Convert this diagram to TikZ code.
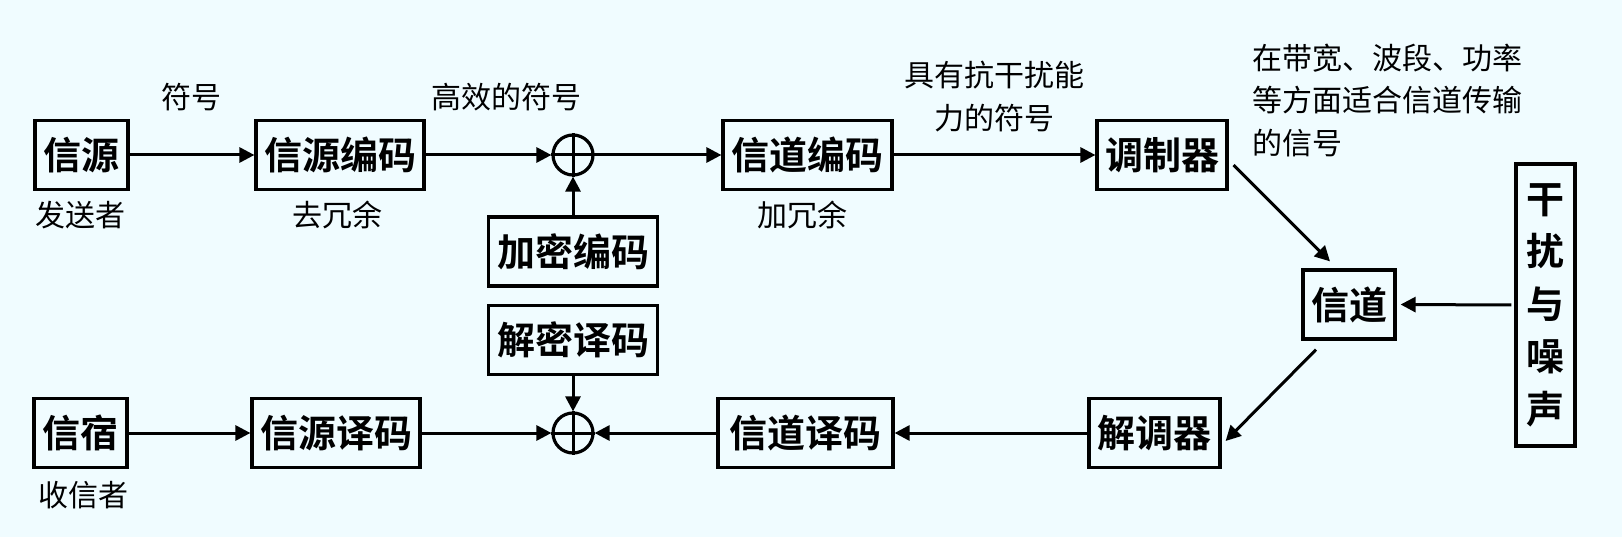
\documentclass[tikz,border=0pt]{standalone}
\usepackage{fontspec}
\newfontfamily\cjk{Noto Sans CJK SC}[BoldFont={Noto Sans CJK SC Bold}]
\usetikzlibrary{arrows.meta,calc}
\definecolor{bgc}{RGB}{240,252,255}
\begin{document}
\begin{tikzpicture}[x=1pt,y=-1pt,
 box/.style={draw,line width=3.2pt,inner sep=0pt,minimum height=69pt,font=\cjk\bfseries\fontsize{38}{40}\selectfont},
 lab/.style={inner sep=0pt,font=\cjk\fontsize{30}{42.5}\selectfont},
 arr/.style={line width=3pt,-{Triangle[length=15pt,width=15pt]}},
 xorn/.style={draw,circle,line width=3.2pt,minimum size=40pt,inner sep=0pt}]
\fill[bgc] (0,0) rectangle (1622,537);
\useasboundingbox (0,0) rectangle (1622,537);
% top row
\node[box,minimum width=93pt] (src) at (81.5,155) {信源};
\node[box,minimum width=168pt] (senc) at (340,155) {信源编码};
\node[xorn] (xt) at (573,155) {};
\node[box,minimum width=169pt] (cenc) at (807.5,155) {信道编码};
\node[box,minimum width=130pt] (mod) at (1162,155) {调制器};
\node[box,minimum width=169pt] (enc) at (573,251.5) {加密编码};
\node[box,minimum width=169pt] (dec) at (573,340) {解密译码};
% bottom row
\node[box,minimum width=93pt] (dst) at (80.5,433) {信宿};
\node[box,minimum width=168pt] (sdec) at (336,433) {信源译码};
\node[xorn] (xb) at (573,433) {};
\node[box,minimum width=175pt] (cdec) at (805.5,433) {信道译码};
\node[box,minimum width=131pt] (demod) at (1154.5,433) {解调器};
% channel and noise
\node[box,minimum width=92pt] (ch) at (1349,304.5) {信道};
\node[box,minimum width=59pt,minimum height=282pt,align=center,font=\cjk\bfseries\fontsize{38}{52.5}\selectfont] (noise) at (1545.5,305) {干\\扰\\与\\噪\\声};
% crosses in the circles
\draw[line width=3pt] (xt.north) -- (xt.south) (xt.west) -- (xt.east);
\draw[line width=3pt] (xb.north) -- (xb.south) (xb.west) -- (xb.east);
% labels
\node[lab] (l1) at (191,97) {符号};
\node[lab] (l2) at (506,97) {高效的符号};
\node[lab] (l3) at (80,215) {发送者};
\node[lab] (l4) at (337,215) {去冗余};
\node[lab] (l5) at (802,215) {加冗余};
\node[lab,align=center] (l6) at (994,96.5) {具有抗干扰能\\力的符号};
\node[lab,align=left,anchor=west] (l7) at (1252,100) {在带宽、波段、功率\\等方面适合信道传输\\的信号};
\node[lab] (l8) at (83,495) {收信者};
% arrows
\draw[arr] (src) -- (senc);
\draw[arr] (senc) -- (xt);
\draw[arr] (xt) -- (cenc);
\draw[arr] (cenc) -- (mod);
\draw[arr] (enc) -- (xt);
\draw[arr] ([shift={(5,10)}]mod.east) -- ([shift={(-19,-7)}]ch.north);
\draw[arr,shorten <=3pt,shorten >=4pt] (noise.west) -- (ch.east);
\draw[arr] ([shift={(-33,9)}]ch.south) -- ([shift={(4,8)}]demod.east);
\draw[arr] (demod) -- (cdec);
\draw[arr] (cdec) -- (xb);
\draw[arr] (dec) -- (xb);
\draw[arr] (sdec) -- (xb);
\draw[arr] (dst) -- (sdec);
\end{tikzpicture}
\end{document}
